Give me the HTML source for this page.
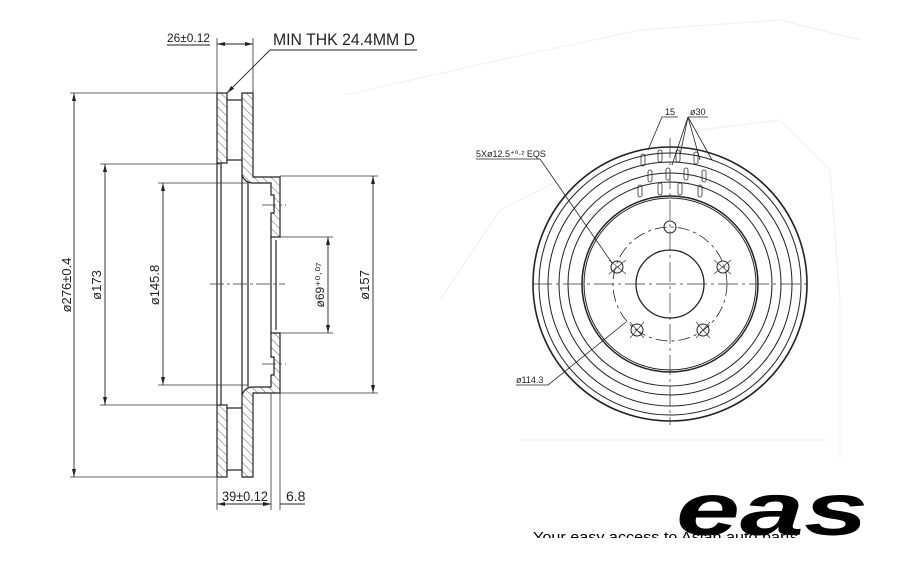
<!DOCTYPE html>
<html><head><meta charset="utf-8"><style>
html,body{margin:0;padding:0;background:#fff;}
svg{display:block;}
text{font-family:"Liberation Sans",sans-serif;fill:#222;}
</style></head><body>
<svg width="900" height="566" viewBox="0 0 900 566" xmlns="http://www.w3.org/2000/svg">
<defs>
<pattern id="h" patternUnits="userSpaceOnUse" width="6" height="6" patternTransform="rotate(-45)">
<line x1="0" y1="0" x2="0" y2="6" stroke="#333" stroke-width="0.8"/>
</pattern>
<marker id="a" markerWidth="8" markerHeight="6" refX="8" refY="3" orient="auto-start-reverse" markerUnits="userSpaceOnUse">
<path d="M0,1 L8,3 L0,5z" fill="#222"/></marker>
</defs>
<g stroke="#f0f0f0" fill="none" stroke-width="1">
<polyline points="345,95 500,60 640,30 780,20 860,40"/>
<polyline points="440,300 500,210 560,180"/>
<polyline points="700,130 780,120 830,170 840,300 840,460"/>
<polyline points="520,440 830,440"/>
</g>
<g stroke="#222" stroke-width="1.2" fill="none">
<rect x="217" y="93" width="10" height="70" fill="url(#h)"/>
<rect x="217" y="405" width="10" height="72" fill="url(#h)"/>
<path d="M242,93 H253 V177 H280 V237 H271 V213 H274 V195 H271 V183 H253 Q245,183 242,175 Z" fill="url(#h)"/>
<path d="M242,477 H253 V393 H280 V333 H271 V357 H274 V375 H271 V387 H253 Q245,387 242,395 Z" fill="url(#h)"/>
<line x1="217" y1="163" x2="217" y2="405"/>
<line x1="221" y1="163" x2="221" y2="405"/>
<line x1="242" y1="175" x2="242" y2="395"/>
<line x1="248" y1="183" x2="248" y2="387"/>
<line x1="227" y1="100" x2="242" y2="100"/>
<line x1="227" y1="160" x2="242" y2="160"/>
<line x1="227" y1="408" x2="242" y2="408"/>
<line x1="227" y1="470" x2="242" y2="470"/>
<line x1="271" y1="237" x2="271" y2="333"/>
<line x1="276" y1="240" x2="276" y2="330"/>
</g>
<g stroke="#333" stroke-width="0.8" stroke-dasharray="14,3,3,3">
<line x1="210" y1="284" x2="285" y2="284"/>
<line x1="262" y1="205" x2="286" y2="205"/>
<line x1="262" y1="364" x2="286" y2="364"/>
</g>
<g stroke="#333" stroke-width="0.8">
<line x1="70" y1="93" x2="217" y2="93"/>
<line x1="70" y1="477" x2="217" y2="477"/>
<line x1="100" y1="164" x2="220" y2="164"/>
<line x1="100" y1="405" x2="220" y2="405"/>
<line x1="158" y1="183" x2="248" y2="183"/>
<line x1="158" y1="385" x2="248" y2="385"/>
<line x1="280" y1="176" x2="378" y2="176"/>
<line x1="280" y1="393" x2="378" y2="393"/>
<line x1="280" y1="237" x2="333" y2="237"/>
<line x1="280" y1="333" x2="333" y2="333"/>
<line x1="217" y1="38" x2="217" y2="93"/>
<line x1="253" y1="38" x2="253" y2="93"/>
<line x1="217" y1="477" x2="217" y2="510"/>
<line x1="271" y1="393" x2="271" y2="510"/>
<line x1="280" y1="393" x2="280" y2="510"/>
</g>
<g stroke="#222" stroke-width="0.9" marker-start="url(#a)" marker-end="url(#a)">
<line x1="74" y1="93" x2="74" y2="477"/>
<line x1="105" y1="164" x2="105" y2="405"/>
<line x1="163" y1="183" x2="163" y2="385"/>
<line x1="373" y1="176" x2="373" y2="393"/>
<line x1="328" y1="237" x2="328" y2="333"/>
<line x1="217" y1="44" x2="253" y2="44"/>
<line x1="217" y1="504" x2="271" y2="504"/>
</g>
<g stroke="#222" stroke-width="0.9">
<line x1="280" y1="504" x2="305" y2="504"/>
<line x1="262" y1="504" x2="271" y2="504" marker-end="url(#a)"/>
<line x1="167" y1="45" x2="210" y2="45"/>
<line x1="270" y1="50" x2="417" y2="50"/>
<line x1="270" y1="50" x2="227" y2="93" marker-end="url(#a)"/>
</g>
<text x="167" y="42" font-size="12" textLength="43" lengthAdjust="spacingAndGlyphs">26±0.12</text>
<text x="273" y="45" font-size="17" textLength="142" lengthAdjust="spacingAndGlyphs">MIN THK 24.4MM D</text>
<text x="222" y="501" font-size="14" textLength="46" lengthAdjust="spacingAndGlyphs">39±0.12</text>
<text x="286" y="501" font-size="14">6.8</text>
<text transform="translate(71,285) rotate(-90)" text-anchor="middle" font-size="13">ø276±0.4</text>
<text transform="translate(101,285) rotate(-90)" text-anchor="middle" font-size="13">ø173</text>
<text transform="translate(159,285) rotate(-90)" text-anchor="middle" font-size="13">ø145.8</text>
<text transform="translate(369,285) rotate(-90)" text-anchor="middle" font-size="13">ø157</text>
<text transform="translate(324,285) rotate(-90)" text-anchor="middle" font-size="12">ø69⁺⁰·⁰⁷</text>
<g stroke="#222" fill="none" stroke-width="1">
<circle cx="670" cy="284" r="137" stroke-width="1.6"/>
<circle cx="670" cy="284" r="131"/>
<circle cx="670" cy="284" r="122"/>
<circle cx="670" cy="284" r="111"/>
<circle cx="670" cy="284" r="102"/>
<circle cx="670" cy="284" r="88" stroke-width="1.5"/>
<circle cx="670" cy="284" r="86"/>
<circle cx="670" cy="284" r="34" stroke-width="1.3"/>
<circle cx="670" cy="284" r="57" stroke-dasharray="12,4,3,4" stroke-width="0.8"/>
<circle cx="670" cy="227" r="6"/>
<circle cx="617" cy="267" r="6"/>
<circle cx="723" cy="267" r="6"/>
<circle cx="637" cy="330" r="6"/>
<circle cx="703" cy="330" r="6"/>
</g>
<g stroke="#333" stroke-width="0.7">
<line x1="532" y1="284" x2="810" y2="284" stroke-dasharray="20,4,3,4"/>
<line x1="670" y1="138" x2="670" y2="425" stroke-dasharray="20,4,3,4"/>
<line x1="609" y1="260" x2="626" y2="274"/><line x1="626" y1="260" x2="609" y2="274"/>
<line x1="714" y1="260" x2="731" y2="274"/><line x1="731" y1="260" x2="714" y2="274"/>
<line x1="630" y1="322" x2="644" y2="338"/><line x1="644" y1="322" x2="630" y2="338"/>
<line x1="696" y1="322" x2="710" y2="338"/><line x1="710" y1="322" x2="696" y2="338"/>
</g>
<g stroke="#333" fill="none" stroke-width="0.8">
<rect x="641" y="154" width="4" height="12" rx="2"/>
<rect x="658" y="150" width="4" height="12" rx="2"/>
<rect x="676" y="150" width="4" height="12" rx="2"/>
<rect x="694" y="152" width="4" height="12" rx="2"/>
<rect x="648" y="170" width="4" height="12" rx="2"/>
<rect x="666" y="168" width="4" height="12" rx="2"/>
<rect x="684" y="168" width="4" height="12" rx="2"/>
<rect x="702" y="170" width="4" height="12" rx="2"/>
<rect x="638" y="185" width="4" height="12" rx="2"/>
<rect x="658" y="183" width="4" height="12" rx="2"/>
<rect x="678" y="183" width="4" height="12" rx="2"/>
<rect x="698" y="185" width="4" height="12" rx="2"/>
</g>
<g stroke="#222" stroke-width="0.8" fill="none">
<polyline points="678,117 662,117 648,150"/>
<polyline points="708,117 688,117"/>
<line x1="688" y1="117" x2="672" y2="165"/>
<line x1="688" y1="117" x2="680" y2="155"/>
<line x1="688" y1="117" x2="700" y2="160"/>
<line x1="688" y1="117" x2="712" y2="160"/>
<polyline points="476,159 540,159 612,263"/>
<polyline points="516,385 548,385 626,322"/>
</g>
<text x="665" y="115" font-size="9">15</text>
<text x="690" y="115" font-size="9">ø30</text>
<text x="476" y="157" font-size="9">5Xø12.5⁺⁰·² EQS</text>
<text x="516" y="383" font-size="9">ø114.3</text>
<text x="533" y="542" font-size="15" style="fill:#000" textLength="265" lengthAdjust="spacingAndGlyphs">Your easy access to Asian auto parts</text>
<rect x="520" y="538" width="300" height="28" fill="#fff"/>
<text x="676" y="535" font-size="74" font-weight="bold" font-style="italic" style="fill:#000" textLength="192" lengthAdjust="spacingAndGlyphs">eas</text>
</svg>
</body></html>
